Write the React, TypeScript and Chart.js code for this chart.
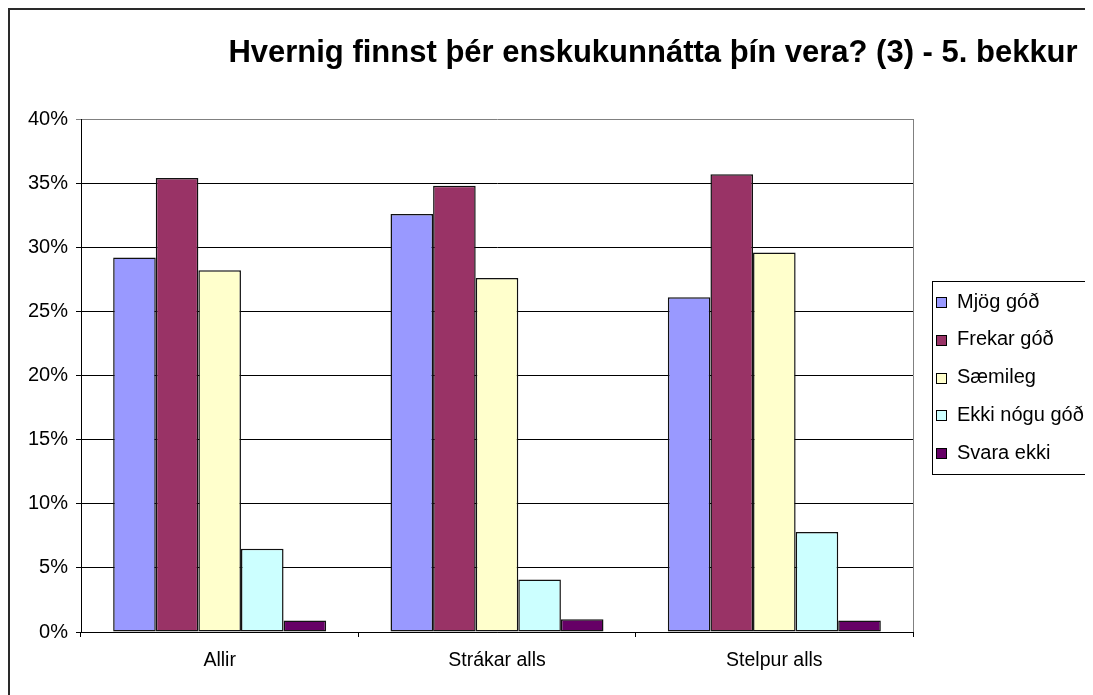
import React, { useEffect, useRef } from "react";
import { Chart, registerables } from "chart.js";

Chart.register(...registerables);

const TITLE = "Hvernig finnst þér enskukunnátta þín vera? (3) - 5. bekkur";
const categories = ["Allir", "Strákar alls", "Stelpur alls"];
const seriesNames = ["Mjög góð", "Frekar góð", "Sæmileg", "Ekki nógu góð", "Svara ekki"];
const mjogGod = [29.2, 32.6, 26.1];
const frekarGod = [35.4, 34.8, 35.7];
const saemileg = [28.2, 27.6, 29.6];
const ekkiNoguGod = [6.5, 4.1, 7.8];
const svaraEkki = [0.9, 1.0, 0.9];
const seriesColors = ["#9999FF", "#993366", "#FFFFCC", "#CCFFFF", "#660066"];
const yTicks = [0, 5, 10, 15, 20, 25, 30, 35, 40];

const FONT = '"Liberation Sans", Arial, sans-serif';
const W = 1085;
const H = 687;

const framePlugin = {
  id: "framePlugin",
  beforeDatasetsDraw(chart: any) {
    const { ctx, chartArea } = chart;
    ctx.save();
    ctx.strokeStyle = "#808080";
    ctx.lineWidth = 1;
    ctx.beginPath();
    ctx.moveTo(Math.round(chartArea.right) + 0.5, chartArea.top);
    ctx.lineTo(Math.round(chartArea.right) + 0.5, chartArea.bottom);
    ctx.stroke();
    ctx.restore();
  },
  afterDraw(chart: any) {
    const { ctx } = chart;
    ctx.save();
    // outer border (left & top)
    ctx.fillStyle = "#2a2a2a";
    ctx.fillRect(0, 0, 2, H);
    ctx.fillRect(0, 0, W, 2);
    // title
    ctx.fillStyle = "#000";
    ctx.font = "bold 31px " + FONT;
    ctx.textAlign = "center";
    ctx.textBaseline = "middle";
    ctx.fillText(TITLE, 645, 45);
    // legend
    const lx = 924;
    const ly = 273;
    const lh = 193;
    ctx.strokeStyle = "#000";
    ctx.lineWidth = 1;
    ctx.strokeRect(lx + 0.5, ly + 0.5, W - lx + 10, lh);
    ctx.font = "20px " + FONT;
    ctx.textAlign = "left";
    ctx.textBaseline = "middle";
    chart.data.datasets.forEach((ds: any, i: number) => {
      const cy = ly + 21 + i * 37.75;
      ctx.fillStyle = ds.backgroundColor;
      ctx.fillRect(928, Math.round(cy - 5), 10, 10);
      ctx.strokeStyle = "#000";
      ctx.strokeRect(928.5, Math.round(cy - 5) + 0.5, 10, 10);
      ctx.fillStyle = "#000";
      ctx.fillText(ds.label, 949, cy);
    });
    ctx.restore();
  },
};

export default function App() {
  const ref = useRef<HTMLCanvasElement | null>(null);
  useEffect(() => {
    document.documentElement.style.overflow = "hidden";
    document.body.style.overflow = "hidden";
    const series = [mjogGod, frekarGod, saemileg, ekkiNoguGod, svaraEkki];
    const chart = new Chart(ref.current as HTMLCanvasElement, {
      type: "bar",
      data: {
        labels: categories,
        datasets: series.map((d, i) => ({
          label: seriesNames[i],
          data: d,
          backgroundColor: seriesColors[i],
          borderColor: "#111",
          borderWidth: 1.5,
          borderSkipped: false,
          categoryPercentage: 0.768,
          barPercentage: 1,
        })),
      },
      options: {
        animation: false,
        responsive: false,
        devicePixelRatio: 1,
        layout: { padding: { top: 111, right: 180, left: 0, bottom: 0 } },
        plugins: {
          legend: { display: false },
          title: { display: false },
          tooltip: { enabled: false },
        },
        scales: {
          x: {
            type: "category",
            offset: true,
            grid: {
              display: true,
              offset: true,
              drawOnChartArea: false,
              drawTicks: true,
              tickLength: 5,
              color: "#000",
            },
            border: { display: true, color: "#000", width: 1 },
            ticks: {
              color: "#000",
              font: { family: FONT, size: 19.5 },
              padding: 12,
              maxRotation: 0,
            },
            afterFit(scale: any) {
              scale.height = 63;
            },
          },
          y: {
            min: 0,
            max: 40,
            afterBuildTicks(scale: any) {
              scale.ticks = yTicks.map((v) => ({ value: v }));
            },
            grid: {
              color: (c: any) => (c.tick && c.tick.value === 40 ? "#808080" : "#000"),
              tickLength: 5,
              lineWidth: 1,
            },
            border: { display: true, color: "#000", width: 1 },
            ticks: {
              color: "#000",
              font: { family: FONT, size: 20 },
              padding: 8,
              callback: (v: any) => v + "%",
            },
            afterFit(scale: any) {
              scale.width = 73;
            },
          },
        },
      },
      plugins: [framePlugin],
    });
    return () => chart.destroy();
  }, []);
  return (
    <div style={{ width: W, height: H, position: "relative" }}>
      <canvas ref={ref} width={W} height={H} style={{ width: W, height: H, display: "block" }} />
    </div>
  );
}
